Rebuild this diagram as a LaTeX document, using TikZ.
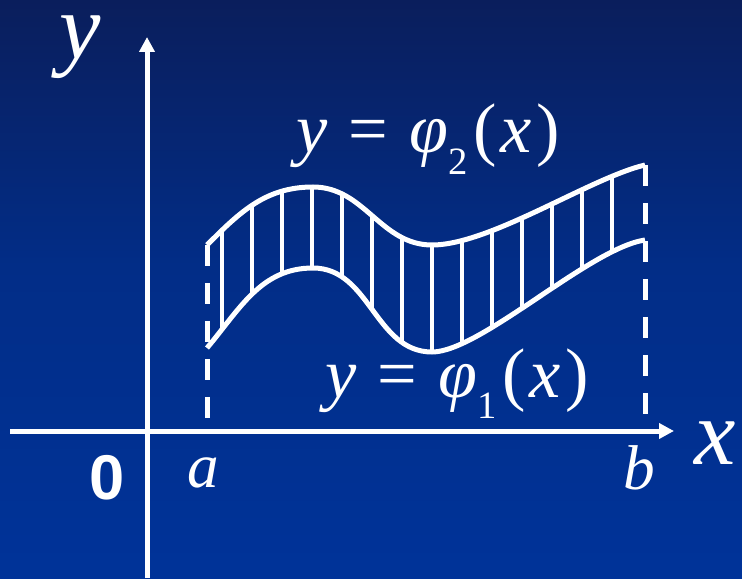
\documentclass[tikz,border=0pt]{standalone}
\usepackage{fontspec}
\newfontfamily\timesfont{Liberation Serif}
\newfontfamily\digitfont{Liberation Sans}
\usetikzlibrary{arrows.meta}
\definecolor{bgtop}{RGB}{10,30,92}
\definecolor{bgmid}{RGB}{2,45,135}
\definecolor{bgbot}{RGB}{0,51,153}
\pgfdeclareverticalshading{bgblue}{100bp}{color(0bp)=(bgbot); color(25bp)=(bgbot); color(52bp)=(bgmid); color(75bp)=(bgtop); color(100bp)=(bgtop)}
\newcommand\funclabel[1]{\textit{y}\hspace{0.3em}=\hspace{0.3em}\textit{φ}\raisebox{-0.3em}{\fontsize{22}{22}\selectfont #1}\hspace{0.08em}(\hspace{0.06em}\textit{x}\hspace{0.06em})}
\begin{document}
\begin{tikzpicture}[x=0.02cm, y=0.02cm,
    axis/.style={line width=0.1cm, white, -{Triangle[length=0.3cm, width=0.3cm]}},
    curve/.style={line width=0.1cm, white},
    hatch/.style={line width=0.08cm, white},
    guide/.style={line width=0.1cm, white, dash pattern=on 0.42cm off 0.34cm},
    lab/.style={text=white, inner sep=0pt, font=\fontsize{40}{40}\selectfont\timesfont},
    big/.style={text=white, inner sep=0pt, font=\fontsize{53}{53}\selectfont\timesfont\itshape}
  ]
    \shade[shading=bgblue] (0,0) rectangle (742,578);
    \useasboundingbox (0,0) rectangle (742,578);

    \coordinate (xstart) at (10,147);
    \coordinate (xend)   at (674,147);
    \coordinate (ystart) at (147,0);
    \coordinate (yend)   at (147,541);

    \coordinate (a0) at (207,147);
    \coordinate (b0) at (645,147);
    \coordinate (up-a)   at (207,333);
    \coordinate (up-top) at (313,391);
    \coordinate (up-low) at (432,333);
    \coordinate (up-b)   at (645,413);
    \coordinate (lo-a)   at (207,230);
    \coordinate (lo-top) at (313,310);
    \coordinate (lo-low) at (432,226);
    \coordinate (lo-b)   at (645,338);

    \begin{scope}
      \clip (up-a) to[out=45,in=180] (up-top) to[out=0,in=180] (up-low)
        .. controls (490,333) and (590,400) .. (up-b) -- (lo-b)
        .. controls (590,330) and (480,226) .. (lo-low)
        to[out=180,in=0] (lo-top) to[out=180,in=50] (lo-a) -- cycle;
      \foreach \hx in {222,252,...,612}
        \draw[hatch] (\hx,100) -- (\hx,450);
    \end{scope}

    \draw[guide] (up-a) -- (a0);
    \draw[guide] (up-b) -- (b0);

    \draw[curve] (up-a) to[out=45,in=180] (up-top) to[out=0,in=180] (up-low)
      .. controls (490,333) and (590,400) .. (up-b);
    \draw[curve] (lo-a) to[out=50,in=180] (lo-top) to[out=0,in=180] (lo-low)
      .. controls (480,226) and (590,330) .. (lo-b);

    \draw[axis] (xstart) -- (xend);
    \draw[axis] (ystart) -- (yend);

    \node[lab, anchor=base] (phi2) at (428,425) {\funclabel{2}};
    \node[lab, anchor=base] (phi1) at (457,181) {\funclabel{1}};

    \node[big] (ylab) at (80,531) {y};
    \node[big] (xlab) at (715,135) {x};
    \node[lab, font=\fontsize{36}{36}\selectfont\digitfont\bfseries] (zero) at (107,100) {0};
    \node[lab, font=\fontsize{36}{36}\selectfont\timesfont\itshape] (alab) at (203,105) {a};
    \node[lab, font=\fontsize{36}{36}\selectfont\timesfont\itshape] (blab) at (639,110) {b};
\end{tikzpicture}
\end{document}
